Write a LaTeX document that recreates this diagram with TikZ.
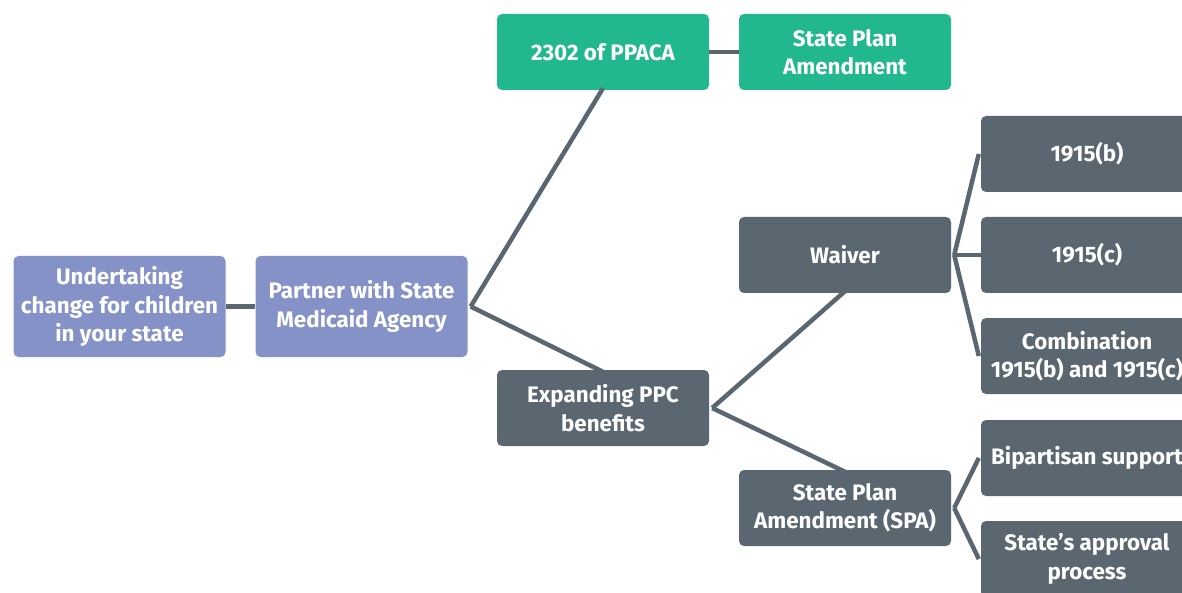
\documentclass[tikz,border=0pt]{standalone}
\usepackage{fontspec}
\setmainfont{Fira Sans}[UprightFont=* Bold]
\definecolor{purp}{RGB}{132,146,200}
\definecolor{grn}{RGB}{33,183,143}
\definecolor{slate}{RGB}{90,102,112}
\begin{document}
\begin{tikzpicture}[x=1pt,y=-1pt,
  box/.style={rounded corners=5pt, text=white, align=center, minimum width=212pt,
     minimum height=76pt, inner sep=2pt, font=\fontsize{22.4}{28.5}\selectfont},
  pbox/.style={box, fill=purp, minimum height=101pt},
  gbox/.style={box, fill=grn},
  sbox/.style={box, fill=slate},
  link/.style={draw=slate, line width=4.5pt}]
\useasboundingbox (0,0) rectangle (1182,593);
\clip (0,0) rectangle (1182,593);
\node[pbox] (u) at (119.5,306.5) {Undertaking\\change for children\\in your state};
\node[pbox] (p) at (361.5,306.5) {Partner with State\\Medicaid Agency};
\node[gbox] (ppaca) at (603,52) {2302 of PPACA};
\node[gbox] (spa1) at (845,52) {State Plan\\Amendment};
\node[sbox] (exp) at (603,408) {Expanding PPC\\benefits};
\node[sbox] (waiver) at (845,255) {Waiver};
\node[sbox] (spa2) at (845,508) {State Plan\\Amendment (SPA)};
\node[sbox] (b) at (1087,154) {1915(b)};
\node[sbox] (c) at (1087,255) {1915(c)};
\node[sbox] (comb) at (1087,356) {Combination\\1915(b) and 1915(c)};
\node[sbox] (bip) at (1087,458) {Bipartisan support};
\node[sbox] (appr) at (1087,559) {State’s approval\\process};
\coordinate (pf) at ([xshift=3pt]p.east);
\coordinate (ef) at ([xshift=3pt]exp.east);
\coordinate (wf) at ([xshift=3pt]waiver.east);
\coordinate (sf) at ([xshift=3pt]spa2.east);
\draw[link] (u.east) -- (p.west);
\draw[link] (pf) -- ([yshift=2pt]ppaca.south);
\draw[link] (pf) -- ([yshift=-2pt]exp.north);
\draw[link] (ppaca.east) -- (spa1.west);
\draw[link] (ef) -- ([yshift=2pt]waiver.south);
\draw[link] (ef) -- ([yshift=-2pt]spa2.north);
\draw[link] (wf) -- ([xshift=-2pt]b.west);
\draw[link] (wf) -- (c.west);
\draw[link] (wf) -- ([xshift=-2pt]comb.west);
\draw[link] (sf) -- ([xshift=-2pt]bip.west);
\draw[link] (sf) -- ([xshift=-2pt]appr.west);
\end{tikzpicture}
\end{document}
